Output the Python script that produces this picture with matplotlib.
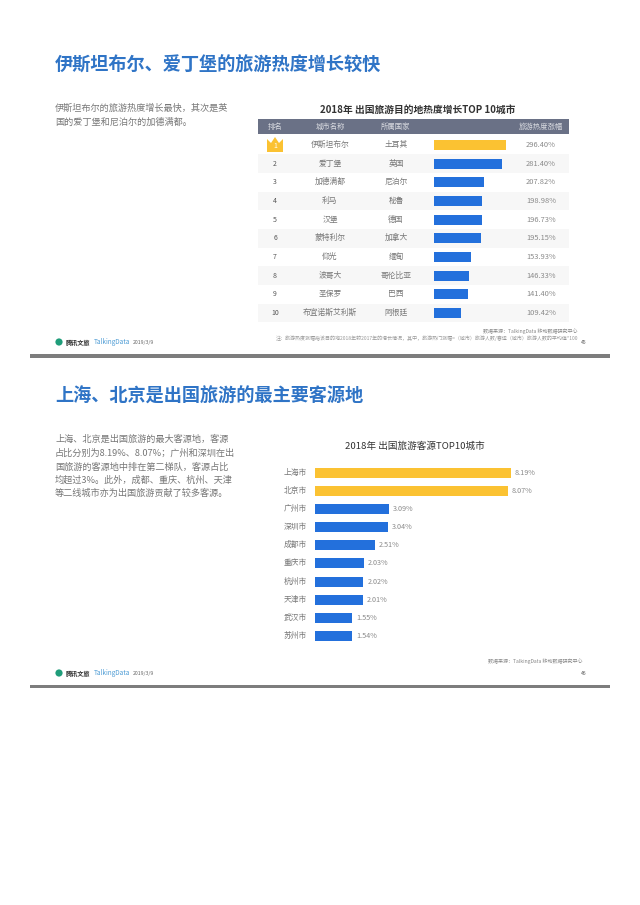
import matplotlib
matplotlib.use('Agg')
import matplotlib.pyplot as plt
from matplotlib.patches import Rectangle, Polygon, Circle

plt.rcParams['font.family'] = ['Noto Sans CJK SC', 'DejaVu Sans']

W, H = 640, 905

ranks = ['1', '2', '3', '4', '5', '6', '7', '8', '9', '10']
dest_cities = ['伊斯坦布尔', '爱丁堡', '加德满都', '利马', '汉堡', '蒙特利尔', '仰光', '波哥大', '圣保罗', '布宜诺斯艾利斯']
dest_countries = ['土耳其', '英国', '尼泊尔', '秘鲁', '德国', '加拿大', '缅甸', '哥伦比亚', '巴西', '阿根廷']
dest_growth = [296.40, 281.40, 207.82, 198.98, 196.73, 195.15, 153.93, 146.33, 141.40, 109.42]
table_header = ['排名', '城市名称', '所属国家', '旅游热度涨幅']

source_cities = ['上海市', '北京市', '广州市', '深圳市', '成都市', '重庆市', '杭州市', '天津市', '武汉市', '苏州市']
source_share = [8.19, 8.07, 3.09, 3.04, 2.51, 2.03, 2.02, 2.01, 1.55, 1.54]

BLUE = '#2370dc'
YELLOW = '#fbc232'
TITLE = '#2f74c6'
GREY = '#777777'


def px_axes(fig, x0, y0, x1, y1):
    # axes from pixel box, y measured from the top
    ax = fig.add_axes([x0 / W, 1 - y1 / H, (x1 - x0) / W, (y1 - y0) / H])
    ax.patch.set_alpha(0)
    ax.axis('off')
    return ax


fig = plt.figure(figsize=(6.4, 9.05), dpi=100, facecolor='white')

# page layer in pixel coordinates
pg = px_axes(fig, 0, 0, W, H)
pg.set_xlim(0, W)
pg.set_ylim(H, 0)

# --- first slide ---
pg.text(55, 65, '伊斯坦布尔、爱丁堡的旅游热度增长较快', fontsize=13.1, fontweight='bold',
        color=TITLE, va='center')
pg.text(55, 108, '伊斯坦布尔的旅游热度增长最快，其次是英', fontsize=6.6, color=GREY, va='center')
pg.text(55, 122, '国的爱丁堡和尼泊尔的加德满都。', fontsize=6.6, color=GREY, va='center')
pg.text(418, 110, '2018年 出国旅游目的地热度增长TOP 10城市', fontsize=7.0, color='#333333',
        fontweight='bold', ha='center', va='center')

pg.add_patch(Rectangle((258, 119), 311, 15.5, color='#6a7186', lw=0))
for x, label in zip([275, 330, 396, 541], table_header):
    pg.text(x, 127, label, fontsize=5.3, color='#d8dae0', ha='center', va='center')

row_y = [145 + 18.65 * i for i in range(10)]
for i, y in enumerate(row_y):
    if i % 2 == 1:
        pg.add_patch(Rectangle((258, y - 9.3), 311, 18.6, color='#f7f7f7', lw=0))
    if i > 0:
        pg.text(275, y, ranks[i], fontsize=5, color='#555555', ha='center', va='center')
    pg.text(330, y, dest_cities[i], fontsize=5.6, color='#777777', ha='center', va='center')
    pg.text(396, y, dest_countries[i], fontsize=5.6, color='#777777', ha='center', va='center')
    pg.text(541, y, f'{dest_growth[i]:.2f}%', fontsize=5.4, color='#8a8a8a', ha='center', va='center')

# crown for first place
pg.add_patch(Polygon([(267, 152), (267, 139), (271, 143), (275, 137), (279, 143), (283, 139), (283, 152)],
                     color=YELLOW, lw=0))
pg.text(275, 146, ranks[0], fontsize=5, color='white', ha='center', va='center')

pg.text(577, 331, '数据来源：TalkingData 移动数据研究中心', fontsize=3.65, color='#888888',
        ha='right', va='center')
pg.text(578, 338, '注：旅游热度涨幅指该目的地2018年较2017年的增长情况，其中，旅游热门涨幅=（城市）旅游人数/春运（城市）旅游人数的平均值*100',
        fontsize=3.6, color='#999999', ha='right', va='center')
pg.text(584, 342, '45', fontsize=3.6, color='#555555', ha='center', va='center')

# --- second slide ---
pg.text(55, 396.5, '上海、北京是出国旅游的最主要客源地', fontsize=13.1, fontweight='bold',
        color=TITLE, va='center')
body2 = ['上海、北京是出国旅游的最大客源地，客源',
         '占比分别为8.19%、8.07%；广州和深圳在出',
         '国旅游的客源地中排在第二梯队，客源占比',
         '均超过3%。此外，成都、重庆、杭州、天津',
         '等二线城市亦为出国旅游贡献了较多客源。']
for y, line in zip([439, 453, 467, 480, 493], body2):
    pg.text(55, y, line, fontsize=6.6, color=GREY, va='center')
pg.text(415, 446, '2018年 出国旅游客源TOP10城市', fontsize=6.9, color='#333333',
        fontweight='medium', ha='center', va='center')
pg.text(582, 661, '数据来源：TalkingData 移动数据研究中心', fontsize=3.65, color='#888888',
        ha='right', va='center')
pg.text(584, 673, '46', fontsize=3.6, color='#555555', ha='center', va='center')

# footers and slide dividers
for y_logo, y0, y1 in [(342, 354, 358), (673, 685, 688)]:
    pg.add_patch(Circle((59, y_logo), 3.6, color='#1f9d7a', lw=0))
    pg.text(66, y_logo, '腾讯文旅', fontsize=4.4, fontweight='bold', color='#333333', va='center')
    pg.text(94, y_logo, 'TalkingData', fontsize=4.6, color='#4a9ad4', va='center')
    pg.text(133, y_logo, '2019/3/9', fontsize=3.7, color='#666666', va='center')
    pg.add_patch(Rectangle((30, y0), 580, y1 - y0, color='#7d7d7d', lw=0))

# --- table bars ---
ax1 = px_axes(fig, 434.3, 135.7, 569, 322.2)
ax1.set_xlim(0, (569 - 434.3) / 0.2405)
ax1.set_ylim(9.5, -0.5)
ax1.barh(range(10), dest_growth, height=0.54, color=[YELLOW] + [BLUE] * 9)

# --- source bars ---
ax2 = px_axes(fig, 315, 463.6, 580, 645.1)
ax2.set_xlim(0, (580 - 315) / 23.9)
ax2.set_ylim(9.5, -0.5)
ax2.barh(range(10), source_share, height=0.55, color=[YELLOW] * 2 + [BLUE] * 8)
for i, v in enumerate(source_share):
    ax2.annotate(f'{v:.2f}%', (v, i), xytext=(3, 0), textcoords='offset points',
                 fontsize=5.2, color='#8a8a8a', va='center')
    ax2.annotate(source_cities[i], (0, i), xytext=(-6, 0), textcoords='offset points',
                 fontsize=5.6, color='#777777', ha='right', va='center')

fig.savefig('out.png', dpi=100)
